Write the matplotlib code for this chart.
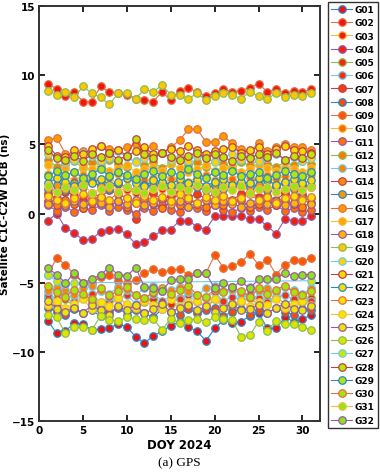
import matplotlib
matplotlib.use("Agg")
import matplotlib.pyplot as plt
from matplotlib.colors import LinearSegmentedColormap

days = list(range(1, 32))
g27_days = [1, 2, 3, 4, 31]

G01 = [-7.75, -8.65, -8.5, -7.9, -8.0, -8.4, -8.35, -8.3, -7.95, -8.2, -8.9, -9.35, -8.85, -8.5, -8.1, -7.8, -8.2, -8.5, -9.2, -8.3, -7.7, -7.9, -7.8, -7.4, -7.15, -8.3, -8.3, -7.5, -7.8, -7.6, -7.35]
G02 = [9.4, 9.0, 8.5, 8.8, 8.1, 8.1, 9.2, 8.8, 8.7, 8.6, 8.3, 8.2, 8.1, 8.8, 8.2, 8.9, 9.1, 8.8, 8.5, 8.7, 9.0, 8.8, 8.9, 9.1, 9.4, 8.8, 9.0, 8.7, 8.9, 8.8, 9.0]
G03 = [1.5, 1.8, 2.0, 1.6, 2.2, 2.4, 1.9, 2.6, 2.1, 1.7, 1.5, 2.0, 2.3, 1.8, 2.5, 2.2, 1.9, 2.4, 2.0, 1.7, 2.1, 2.3, 1.9, 2.2, 1.8, 2.4, 2.0, 1.7, 2.2, 1.9, 2.1]
G04 = [-0.5, 0.0, -1.05, -1.4, -1.9, -1.85, -1.3, -1.15, -1.1, -1.5, -2.2, -2.05, -1.65, -1.2, -1.15, -0.5, -0.5, -0.95, -1.15, -0.2, -0.15, -0.15, -0.2, -0.4, -0.4, -0.9, -1.45, -0.4, -0.5, -0.5, -0.2]
G05 = [-6.0, -6.5, -6.2, -6.7, -6.1, -6.4, -6.8, -6.3, -6.0, -6.6, -6.9, -6.4, -6.2, -6.7, -6.5, -6.1, -6.6, -6.3, -6.8, -6.2, -6.5, -6.9, -6.4, -6.1, -6.6, -6.3, -6.0, -6.5, -6.2, -6.4, -6.1]
G06 = [-5.9, -6.1, -5.7, -6.3, -6.0, -5.8, -6.4, -6.0, -6.2, -5.9, -6.5, -6.1, -5.8, -6.3, -6.0, -6.2, -5.9, -6.4, -6.1, -5.7, -6.3, -6.0, -6.2, -5.8, -6.1, -6.4, -6.0, -5.9, -6.2, -6.0, -6.3]
G07 = [1.4, 1.1, 1.6, 1.3, 1.0, 1.5, 1.2, 1.7, 1.4, 1.1, -0.4, 1.2, 1.5, 1.0, 1.3, 1.6, 1.2, 1.4, 1.1, 1.5, 1.3, 1.0, 1.4, 1.6, 1.2, 1.3, 1.0, 1.5, 1.2, 1.4, 1.1]
G08 = [-6.8, -7.1, -7.3, -6.9, -7.2, -7.0, -7.4, -7.1, -6.8, -7.3, -7.0, -7.2, -7.5, -6.9, -7.1, -7.3, -6.9, -7.2, -7.0, -6.8, -7.4, -7.1, -6.9, -7.3, -7.0, -7.2, -6.8, -7.1, -7.3, -6.9, -7.0]
G09 = [-4.4, -3.2, -3.7, -4.4, -5.0, -5.0, -4.6, -4.4, -4.9, -5.0, -4.8, -4.3, -4.0, -4.2, -4.1, -4.0, -4.4, -4.3, -4.3, -3.0, -3.9, -3.8, -3.5, -2.9, -3.7, -3.35, -4.4, -3.7, -3.35, -3.45, -3.2]
G10 = [2.9, 2.5, 2.7, 2.4, 2.8, 2.6, 2.3, 2.7, 2.9, 2.5, 2.8, 2.4, 2.6, 2.9, 2.5, 2.7, 2.3, 2.6, 2.8, 2.4, 2.7, 2.5, 2.9, 2.6, 2.4, 2.8, 2.5, 2.7, 2.3, 2.6, 2.8]
G11 = [0.6, 0.2, 0.5, 0.1, 0.4, 0.3, 0.6, 0.2, 0.5, 0.3, 0.0, 0.4, 0.2, 0.6, 0.3, 0.1, 0.5, 0.4, 0.2, 0.6, 0.3, 0.1, 0.4, 0.2, 0.5, 0.3, 0.6, 0.2, 0.4, 0.1, 0.3]
G12 = [3.9, 3.4, 3.6, 3.8, 3.3, 3.7, 3.5, 3.9, 3.6, 3.4, 3.8, 3.5, 3.7, 3.3, 3.6, 3.9, 3.5, 3.7, 3.4, 3.8, 3.6, 3.3, 3.7, 3.5, 3.9, 3.6, 3.4, 3.7, 3.5, 3.8, 3.6]
G13 = [-5.6, -5.3, -5.5, -5.9, -5.4, -5.2, -5.6, -5.8, -5.3, -5.5, -5.9, -5.4, -5.2, -5.6, -5.5, -5.3, -5.7, -5.9, -5.4, -5.2, -5.6, -5.5, -5.8, -5.3, -5.6, -5.4, -5.7, -5.3, -5.5, -5.8, -5.4]
G14 = [0.9, 0.6, 1.0, 0.7, 0.4, 0.8, 1.1, 0.6, 0.9, 0.5, 0.8, 1.0, 0.7, 0.4, 0.9, 0.6, 1.0, 0.7, 0.5, 0.9, 0.6, 0.8, 1.0, 0.5, 0.7, 0.9, 0.6, 1.0, 0.7, 0.5, 0.8]
G15 = [1.8, 2.1, 1.7, 2.2, 1.9, 2.3, 2.0, 1.8, 2.2, 1.9, 1.7, 2.1, 2.0, 2.3, 1.8, 2.0, 2.2, 1.9, 1.7, 2.1, 1.8, 2.0, 2.2, 1.9, 2.1, 1.7, 2.0, 2.2, 1.8, 2.1, 1.9]
G16 = [5.3, 5.5, 4.3, 4.2, 4.5, 4.4, 4.9, 4.7, 4.6, 4.8, 5.0, 4.6, 4.9, 4.4, 4.8, 5.3, 6.1, 6.1, 5.2, 5.2, 5.6, 5.1, 4.7, 4.5, 5.1, 4.5, 4.8, 5.0, 4.8, 4.8, 4.6]
G17 = [3.5, 3.1, 3.3, 3.0, 3.4, 3.2, 3.6, 3.1, 3.3, 3.5, 3.0, 3.2, 3.4, 3.1, 3.6, 3.3, 3.0, 3.2, 3.5, 3.1, 3.3, 3.4, 3.0, 3.2, 3.5, 3.3, 3.1, 3.4, 3.2, 3.0, 3.3]
G18 = [0.7, 1.0, 0.6, 0.9, 0.7, 1.1, 0.8, 0.5, 0.9, 0.7, 1.0, 0.6, 0.8, 1.1, 0.7, 0.9, 0.5, 0.8, 1.0, 0.6, 0.9, 0.7, 0.5, 0.8, 1.0, 0.7, 0.9, 0.6, 0.8, 1.1, 0.7]
G19 = [8.9, 8.6, 8.8, 8.4, 9.2, 8.7, 8.4, 7.9, 8.7, 8.7, 8.3, 9.0, 8.8, 9.3, 8.6, 8.6, 8.3, 8.7, 8.2, 8.5, 8.7, 8.6, 8.3, 8.8, 8.5, 8.3, 8.7, 8.4, 8.6, 8.5, 8.7]
G20 = [4.3, 4.1, 3.7, 3.9, 4.4, 4.2, 3.8, 4.0, 4.5, 4.1, 3.7, 4.0, 4.3, 4.4, 3.9, 4.1, 3.8, 4.2, 4.0, 3.7, 4.1, 4.3, 3.9, 4.2, 3.8, 4.0, 4.3, 3.9, 4.1, 3.8, 4.0]
G21 = [4.9, 4.2, 4.1, 4.6, 4.3, 4.7, 4.9, 4.4, 4.6, 4.2, 4.5, 4.8, 4.3, 4.4, 4.7, 4.5, 4.9, 4.6, 4.3, 4.5, 4.7, 4.8, 4.4, 4.6, 4.8, 4.3, 4.7, 4.9, 4.6, 4.5, 4.4]
G22 = [2.2, 2.6, 2.3, 2.0, 2.4, 2.2, 2.5, 2.1, 2.3, 2.6, 2.2, 2.0, 2.4, 2.3, 2.1, 2.5, 2.2, 2.4, 2.0, 2.3, 2.5, 2.1, 2.3, 2.2, 2.6, 2.4, 2.1, 2.3, 2.5, 2.2, 2.4]
G23 = [1.3, 1.0, 0.8, 1.1, 1.4, 0.9, 1.2, 1.0, 1.5, 1.1, 0.8, 1.3, 1.0, 1.2, 0.9, 1.4, 1.1, 0.8, 1.2, 1.0, 1.3, 0.9, 1.1, 1.4, 1.0, 1.2, 0.8, 1.1, 1.3, 1.0, 1.2]
G24 = [-6.6, -6.3, -6.8, -6.5, -6.2, -6.9, -6.4, -6.7, -6.1, -6.5, -6.8, -6.3, -6.6, -6.9, -6.2, -6.7, -6.4, -6.3, -6.6, -6.2, -6.8, -6.5, -6.3, -6.7, -6.4, -6.6, -6.2, -6.8, -6.5, -6.3, -6.6]
G25 = [-6.3, -6.9, -7.1, -6.8, -7.2, -6.6, -7.0, -7.3, -6.7, -7.0, -6.6, -7.2, -6.9, -6.5, -7.1, -6.8, -6.6, -7.0, -6.7, -7.1, -6.8, -6.5, -7.0, -6.9, -6.6, -7.2, -6.8, -6.5, -6.9, -7.0, -6.7]
G26 = [-7.35, -7.5, -8.65, -8.2, -8.2, -8.4, -7.4, -7.7, -7.75, -7.5, -7.6, -7.7, -7.6, -8.4, -7.6, -7.9, -7.7, -7.6, -7.8, -7.5, -7.6, -7.7, -8.9, -8.8, -7.8, -8.45, -7.75, -8.0, -8.0, -8.2, -8.4]
G27 = [-4.4, -4.9, -5.1, -5.0, -4.85]
G28 = [4.6, 4.0, 3.9, 4.2, 3.8, 4.3, 4.1, 4.4, 3.9, 4.2, 5.4, 4.3, 4.0, 4.4, 4.1, 3.9, 4.2, 4.4, 4.0, 4.3, 4.1, 3.8, 4.2, 4.0, 4.3, 4.1, 4.4, 3.9, 4.2, 4.0, 4.3]
G29 = [2.7, 3.1, 2.8, 3.0, 2.6, 2.9, 3.2, 2.7, 3.0, 2.8, 2.5, 2.9, 3.1, 2.7, 3.0, 2.8, 3.2, 2.9, 2.6, 3.0, 2.8, 3.1, 2.7, 2.9, 3.0, 2.6, 2.8, 3.1, 2.9, 2.7, 3.0]
G30 = [-5.2, -5.7, -6.0, -5.5, -5.8, -6.2, -5.4, -5.9, -5.6, -5.3, -5.9, -6.1, -5.7, -5.4, -5.8, -5.5, -5.2, -5.9, -6.0, -5.5, -5.7, -5.3, -5.6, -6.0, -5.4, -5.8, -5.5, -5.2, -5.7, -5.9, -5.6]
G31 = [2.0, 1.6, 1.9, 1.7, 2.1, 1.5, 1.8, 2.0, 1.6, 1.9, 1.7, 1.5, 1.8, 2.0, 1.6, 1.9, 1.7, 2.1, 1.8, 1.6, 1.9, 1.7, 2.0, 1.5, 1.8, 1.9, 1.6, 1.8, 2.0, 1.7, 1.9]
G32 = [-3.96, -4.4, -5.0, -4.3, -5.0, -4.75, -4.4, -3.9, -4.4, -4.5, -3.9, -5.3, -5.4, -5.6, -4.8, -4.75, -4.7, -4.3, -4.3, -5.4, -5.0, -5.3, -4.9, -5.4, -4.75, -4.7, -4.7, -4.3, -4.5, -4.4, -4.4]

series = [G01, G02, G03, G04, G05, G06, G07, G08, G09, G10, G11, G12, G13, G14, G15, G16,
          G17, G18, G19, G20, G21, G22, G23, G24, G25, G26, G27, G28, G29, G30, G31, G32]
labels = ["G%02d" % (i + 1) for i in range(32)]

# matlab default line order, faces from a red-yellow-green ramp
line_cols = ["#2a86c8", "#e0703f", "#f0bd45", "#955aa3", "#8cbb52", "#6fcaf0", "#b5434f"]
face_map = LinearSegmentedColormap.from_list(
    "faces", [(0.0, "#f01010"), (0.15, "#f52a10"), (0.3, "#ff6a00"), (0.5, "#ffa000"),
              (0.6, "#ffd000"), (0.75, "#f5e600"), (0.85, "#c8e600"), (1.0, "#8ee21a")])

fig = plt.figure(figsize=(3.8, 4.77), dpi=100)
ax = fig.add_axes([0.103, 0.115, 0.739, 0.870])

for i, ys in enumerate(series):
    xs = g27_days if labels[i] == "G27" else days
    lc = line_cols[i % 7]
    ax.plot(xs, ys, "-o", color=lc, lw=0.8, ms=5.4, mew=0.9,
            mec=lc, mfc=face_map(i / 31), label=labels[i])

ax.set_xlim(0, 32)
ax.set_ylim(-15, 15)
ax.set_xticks([0, 5, 10, 15, 20, 25, 30])
ax.set_yticks([-15, -10, -5, 0, 5, 10, 15])
ax.tick_params(direction="in", top=True, right=True, length=4, width=1.2,
               labelsize=7.5, pad=3)
for lab in ax.get_xticklabels() + ax.get_yticklabels():
    lab.set_fontweight("bold")
for sp in ax.spines.values():
    sp.set_linewidth(1.4)
    sp.set_color("#333333")
ax.set_xlabel("DOY 2024", fontsize=8.5, fontweight="bold", labelpad=2)
ax.set_ylabel("Satellite C1C-C2W DCB (ns)", fontsize=7.5, fontweight="bold", labelpad=1)

leg = fig.legend(loc="upper left", bbox_to_anchor=(328 / 380, 1 - 3 / 477),
                 prop={"weight": "bold", "size": 6.5}, frameon=True,
                 fancybox=False, edgecolor="black", labelspacing=0.47,
                 handlelength=2.3, handletextpad=0.3, borderpad=0.35,
                 borderaxespad=0)
leg.get_frame().set_linewidth(1.0)

fig.text(0.4725, 0.022, "(a) GPS", ha="center", fontsize=9.5, family="Liberation Serif")

fig.savefig("out.png", dpi=100)
